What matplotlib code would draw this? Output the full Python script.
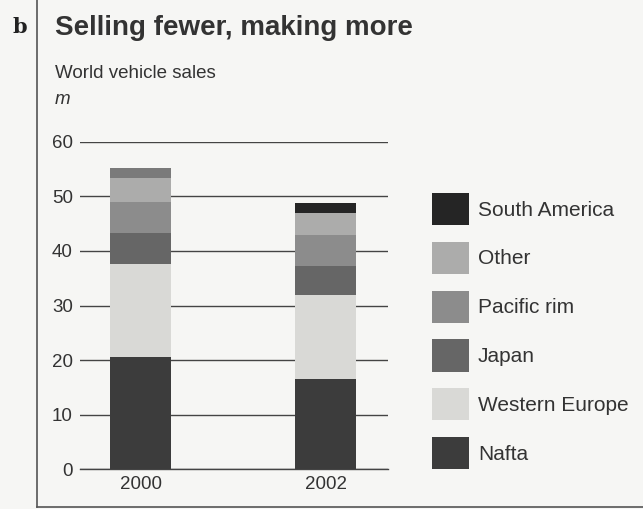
import numpy as np
import matplotlib.pyplot as plt
from matplotlib.lines import Line2D
from matplotlib.patches import Patch

plt.rcParams['font.family'] = ['Liberation Sans', 'DejaVu Sans']

years = ['2000', '2002']
regions = ['Nafta', 'Western Europe', 'Japan', 'Pacific rim', 'Other', 'South America']
nafta = [20.5, 16.5]
western_europe = [17.1, 15.4]
japan = [5.6, 5.4]
pacific_rim = [5.8, 5.6]
other = [4.3, 4.0]
south_america = [1.8, 1.9]
series = [nafta, western_europe, japan, pacific_rim, other, south_america]

colors = ['#3c3c3c', '#d9d9d6', '#666666', '#8c8c8c', '#acacab', '#252525']
# the 2000 South America band is printed in a mid grey
sa_bar_colors = ['#7a7a7a', '#252525']

bg = '#f6f6f4'
fig = plt.figure(figsize=(6.43, 5.09), dpi=100, facecolor=bg)
ax = fig.add_axes([0.124, 0.078, 0.479, 0.6436], facecolor=bg)

x = np.arange(len(years))
bottom = np.zeros(len(years))
for name, vals, col in zip(regions, series, colors):
    c = sa_bar_colors if name == 'South America' else col
    ax.bar(x, vals, width=0.333, bottom=bottom, color=c, zorder=3, linewidth=0)
    bottom += np.array(vals)

ax.set_ylim(0, 60)
ax.set_xlim(-0.329, 1.336)
ax.set_yticks(range(0, 61, 10))
ax.grid(axis='y', color='#444444', linewidth=1.0, zorder=1)
ax.axhline(0, color='#444444', linewidth=1.0, zorder=1, clip_on=False)
ax.set_xticks(x)
ax.set_xticklabels(years)
ax.tick_params(length=0, labelsize=13.5, colors='#333333', pad=5)
ax.tick_params(axis='y', pad=5)
for s in ax.spines.values():
    s.set_visible(False)

# legend, top entry first
handles = [Patch(facecolor=c, edgecolor='none') for c in colors[::-1]]
leg = fig.legend(handles, regions[::-1], loc='upper left', bbox_to_anchor=(0.643, 0.658),
                 frameon=False, fontsize=15, handlelength=1.75, handleheight=2.0,
                 labelspacing=0.80, handletextpad=0.45, labelcolor='#333333')

# panel frame
fig.add_artist(Line2D([37 / 643, 37 / 643], [2 / 509, 1], color='#555555', lw=1.2))
fig.add_artist(Line2D([37 / 643, 1], [2 / 509, 2 / 509], color='#555555', lw=1.2))

fig.text(12 / 643, 1 - 27 / 509, 'b', fontsize=15, fontweight='bold', family='DejaVu Serif',
         color='#222222', va='center')
fig.text(55 / 643, 1 - 28 / 509, 'Selling fewer, making more', fontsize=20, fontweight='bold',
         color='#333333', va='center')
fig.text(55 / 643, 1 - 74 / 509, 'World vehicle sales', fontsize=13.5, color='#333333', va='center')
fig.text(55 / 643, 1 - 99 / 509, 'm', fontsize=13.5, style='italic', color='#333333', va='center')

fig.savefig('out.png', dpi=100, facecolor=bg)
